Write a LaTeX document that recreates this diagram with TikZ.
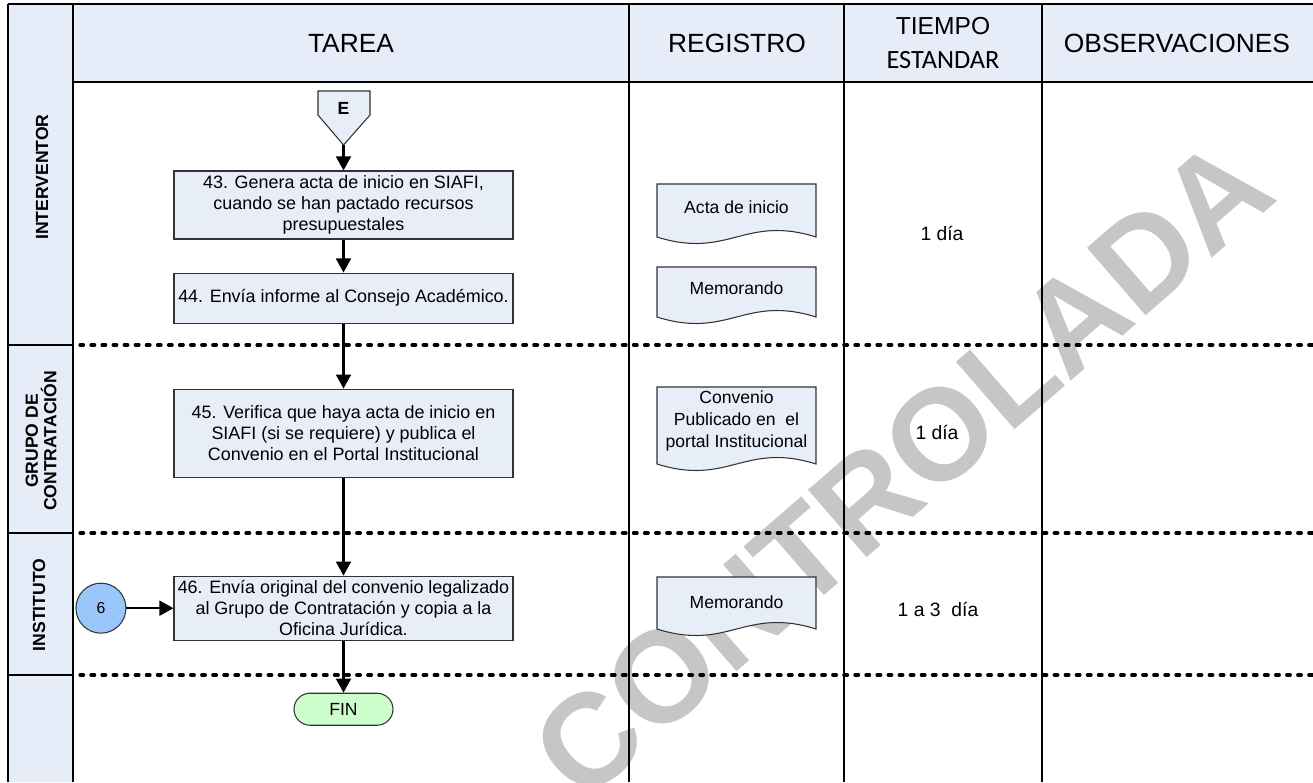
\documentclass[tikz,border=0pt]{standalone}
\usepackage{fontspec}
\setmainfont{Liberation Sans}
\newfontfamily\calibri{Carlito}
\usepackage{tikz}
\usetikzlibrary{arrows.meta, positioning, calc}

\definecolor{boxfill}{RGB}{231,238,248}
\definecolor{hdrfill}{RGB}{230,237,248}
\definecolor{circfill}{RGB}{153,199,250}
\definecolor{finfill}{RGB}{204,255,204}
\definecolor{marca}{RGB}{198,198,198}

\tikzstyle{tarea} = [rectangle, draw=black!80, fill=boxfill, line width=0.6pt, minimum width=6.78cm, inner xsep=1pt, inner ysep=0pt, align=center, font=\fontsize{10.2}{11.8}\selectfont]
\tikzstyle{conector} = [circle, draw=black!80, fill=circfill, line width=0.6pt, minimum size=1cm, inner sep=0pt, font=\fontsize{9}{9}\selectfont]
\tikzstyle{fin} = [rectangle, rounded corners=0.32cm, draw=black!80, fill=finfill, line width=0.6pt, minimum width=1.98cm, minimum height=0.64cm, font=\fontsize{10}{12}\selectfont]
\tikzstyle{arrow} = [line width=1.2pt, -{Triangle[width=8.5pt,length=8pt]}]
\tikzstyle{registro} = [draw=black!80, fill=boxfill, line width=0.6pt]
\tikzstyle{rejilla} = [line width=0.7pt]
\tikzstyle{divisor} = [line width=1.9pt, line cap=round, dash pattern=on 2pt off 4.3pt]
\tikzstyle{encabezado} = [font=\fontsize{15}{18}\selectfont]
\tikzstyle{rol} = [rotate=90, align=center, font=\bfseries\fontsize{10}{10.5}\selectfont]
\tikzstyle{tiempo} = [font=\fontsize{11}{13}\selectfont]
\tikzstyle{doctexto} = [align=center, font=\fontsize{10}{12.5}\selectfont]

% hoja con borde ondulado: #1 arriba, #2 abajo
\newcommand{\documento}[2]{%
  \draw[registro] (13.14,#1) -- (13.14,#2) .. controls (14.57,#2-0.45) and (14.89,#2+0.45) .. (16.32,#2) -- (16.32,#1) -- cycle;}

\begin{document}
\begin{tikzpicture}
    \useasboundingbox (0,0) rectangle (26.26,-15.64);
    \fill[hdrfill] (0.16,-0.08) rectangle (26.26,-1.64);
    \fill[hdrfill] (0.16,-0.08) rectangle (1.46,-15.64);

    \node[rotate=41, text=marca, font=\bfseries\fontsize{74}{74}\selectfont] (marca) at (18.05,-9.36) {CONTROLADA};

    % rejilla
    \draw[rejilla] (0.16,-0.08) -- (26.26,-0.08);
    \draw[rejilla] (1.46,-1.64) -- (26.26,-1.64);
    \foreach \x in {0.16,1.46,12.58,16.88,20.84}
        \draw[rejilla] (\x,-0.08) -- (\x,-15.64);
    \foreach \y in {-6.90,-10.66,-13.50} {
        \draw[rejilla] (0.16,\y) -- (1.46,\y);
        \draw[divisor] (1.60,\y) -- (26.26,\y);
    }

    % encabezados
    \node[encabezado] (tarea) at (7.02,-0.87) {TAREA};
    \node[encabezado] (registro) at (14.74,-0.86) {REGISTRO};
    \node[font=\fontsize{14}{16}\selectfont] (tiempo) at (18.86,-0.52) {TIEMPO};
    \node[font=\calibri\fontsize{15}{18}\selectfont] (estandar) at (18.86,-1.20) {ESTANDAR};
    \node[encabezado] (observaciones) at (23.54,-0.86) {OBSERVACIONES};

    \node[rol] (interventor) at (0.84,-3.54) {INTERVENTOR};
    \node[rol] (grupo) at (0.82,-8.82) {GRUPO DE\\CONTRATACIÓN};
    \node[rol] (instituto) at (0.78,-12.10) {INSTITUTO};

    % conector de pagina
    \draw[registro] (6.36,-1.82) -- (7.40,-1.82) -- (7.40,-2.30) -- (6.87,-2.90) -- (6.36,-2.30) -- cycle;
    \node[font=\bfseries\fontsize{10}{12}\selectfont] (E) at (6.87,-2.16) {E};
    \coordinate (Epunta) at (6.87,-2.90);

    % tareas
    \node[tarea, minimum height=1.36cm] (t43) at (6.87,-4.10) {43. Genera acta de inicio en SIAFI,\\cuando se han pactado recursos\\presupuestales};
    \node[tarea, minimum height=1.0cm, below=0.66cm of t43] (t44) {44. Envía informe al Consejo Académico.};
    \node[tarea, minimum height=1.76cm, below=1.3cm of t44] (t45) {45. Verifica que haya acta de inicio en\\SIAFI (si se requiere) y publica el\\Convenio en el Portal Institucional};
    \node[tarea, minimum height=1.28cm, below=1.96cm of t45] (t46) {46. Envía original del convenio legalizado\\al Grupo de Contratación y copia a la\\Oficina Jurídica.};
    \node[fin, below=1.04cm of t46] (fin) {FIN};
    \node[conector, left=0.94cm of t46] (c6) {6};

    \draw[arrow] (Epunta) -- (t43);
    \draw[arrow] (t43) -- (t44);
    \draw[arrow] (t44) -- (t45);
    \draw[arrow] (t45) -- (t46);
    \draw[arrow] (t46) -- (fin);
    \draw[arrow] (c6) -- (t46);

    % registros
    \documento{-3.68}{-4.74}
    \node[doctexto] (acta) at (14.73,-4.14) {Acta de inicio};
    \documento{-5.34}{-6.34}
    \node[doctexto] (memo1) at (14.73,-5.76) {Memorando};
    \documento{-7.74}{-9.28}
    \node[doctexto] (convenio) at (14.73,-8.42) {Convenio\\Publicado en~ el\\portal Institucional};
    \documento{-11.54}{-12.58}
    \node[doctexto] (memo2) at (14.73,-12.04) {Memorando};

    % tiempos
    \node[tiempo] (d1) at (18.84,-4.66) {1 día};
    \node[tiempo] (d2) at (18.74,-8.64) {1 día};
    \node[tiempo] (d3) at (18.76,-12.18) {1 a 3~ día};
\end{tikzpicture}
\end{document}
